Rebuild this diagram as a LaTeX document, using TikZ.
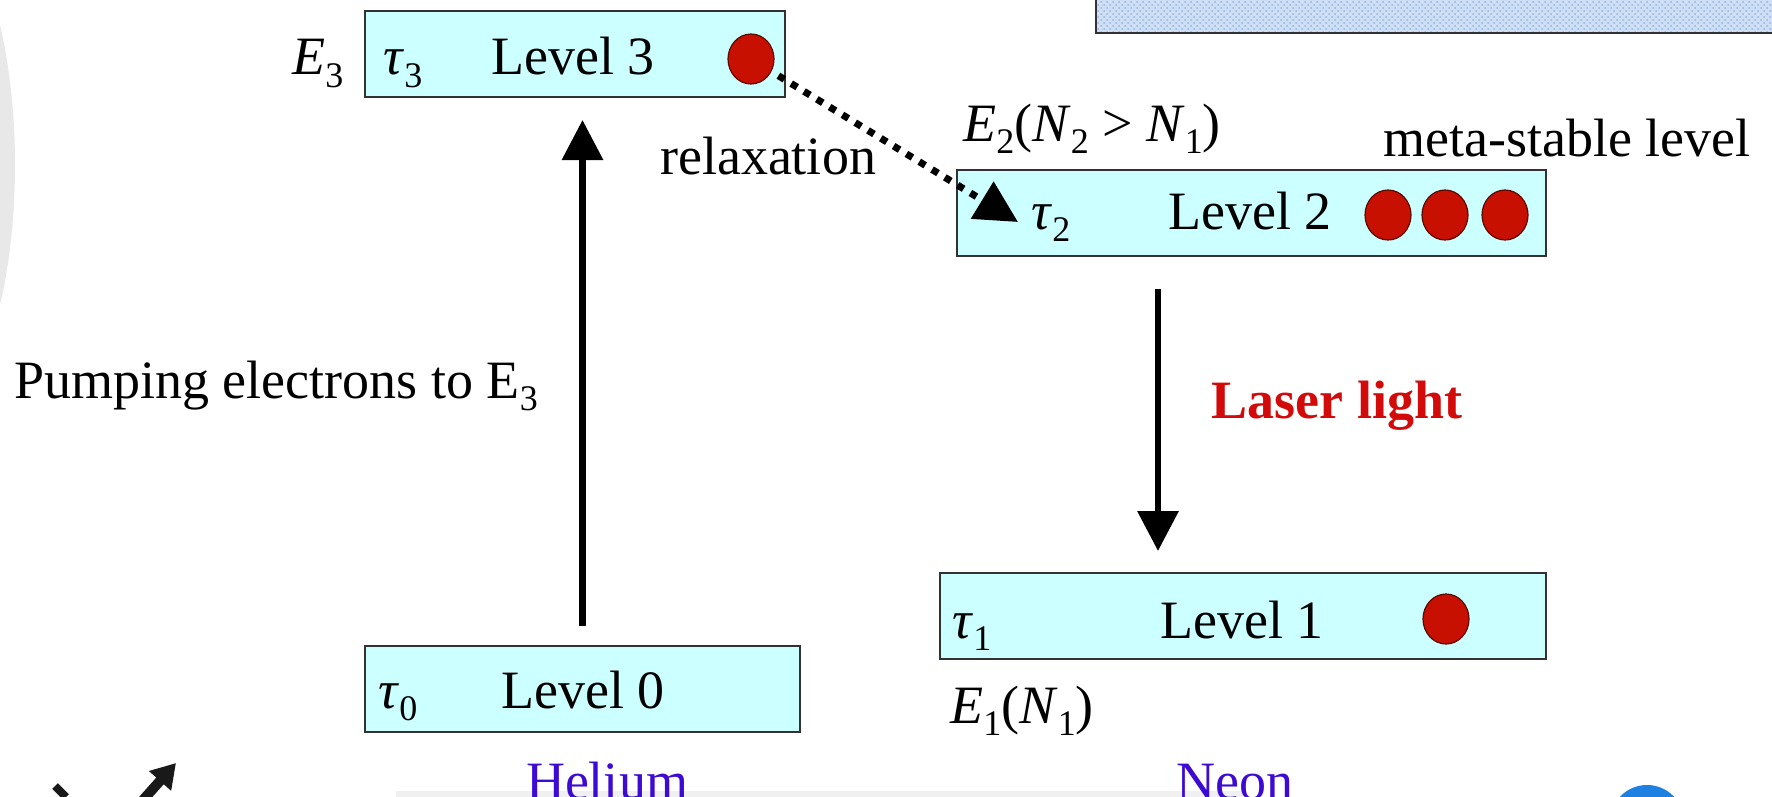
\documentclass[tikz,border=0pt]{standalone}
\usepackage{fontspec}
\setmainfont{Liberation Serif}
\usetikzlibrary{arrows.meta,shapes.geometric,patterns}
\definecolor{boxfill}{RGB}{204,255,255}
\definecolor{boxline}{RGB}{50,50,50}
\definecolor{dotred}{RGB}{200,16,0}
\definecolor{dotline}{RGB}{90,10,0}
\definecolor{laserred}{RGB}{210,10,10}
\definecolor{gasblue}{RGB}{60,10,210}
\definecolor{barblue}{RGB}{205,222,245}
\definecolor{barpat}{RGB}{150,180,225}
\definecolor{iconblue}{RGB}{30,128,224}
\newcommand\sbs[1]{\raisebox{-0.5ex}{\fontsize{18}{18}\selectfont #1}}
\begin{document}
\begin{tikzpicture}[x=0.5pt,y=-0.5pt,
  levelbox/.style={draw=boxline,line width=1pt,fill=boxfill,minimum height=43pt,inner sep=0pt},
  txt/.style={anchor=base,inner sep=0pt,font=\fontsize{27}{32}\selectfont},
  electron/.style={ellipse,draw=dotline,line width=0.6pt,fill=dotred,minimum width=23pt,minimum height=25pt,inner sep=0pt},
  transition/.style={line width=3.2pt,-{Triangle[length=20pt,width=20pt]}},
  relax/.style={line width=3.5pt,dash pattern=on 3.5pt off 4pt,-{Triangle[length=21pt,width=21pt]}}]
\useasboundingbox (0,0) rectangle (1772,797);
% background artefacts
\fill[barblue] (1096,0) rectangle (1772,33);
\fill[pattern=crosshatch dots,pattern color=barpat] (1096,0) rectangle (1772,33);
\draw[boxline,line width=1.2pt] (1096,0) -- (1096,33) -- (1772,33);
\fill[gray!18] (0,25) .. controls (20,110) and (20,220) .. (0,305) -- cycle;
\fill[gray!12] (396,791) rectangle (1243,797);
\fill[iconblue] (1647,822) circle (37);
\draw[black!90,line width=5pt,-{Triangle[length=12pt,width=14pt]}] (143,800) -- (176,763);
\draw[black!90,line width=4pt] (55,786) -- (66,797);
% level boxes
\node[levelbox,minimum width=210pt] (L3) at (575,54) {};
\node[levelbox,minimum width=294.5pt] (L2) at (1251.5,212.5) {};
\node[levelbox,minimum width=303pt] (L1) at (1243,616) {};
\node[levelbox,minimum width=217.5pt] (L0) at (582.5,689) {};
% texts
\node[txt] (E3) at (318,75) {\textit{E}\sbs{3}};
\node[txt] (t3) at (403,75) {\textit{τ}\sbs{3}};
\node[txt] (lv3) at (573,75) {Level 3};
\node[txt] (t2) at (1051,229) {\textit{τ}\sbs{2}};
\node[txt] (lv2) at (1250,229) {Level 2};
\node[txt] (t1) at (972,638) {\textit{τ}\sbs{1}};
\node[txt] (lv1) at (1242,638) {Level 1};
\node[txt] (t0) at (398,708) {\textit{τ}\sbs{0}};
\node[txt] (lv0) at (583,708) {Level 0};
\node[txt] (E2) at (1092,141) {\textit{E}\sbs{2}(\textit{N}\sbs{2} > \textit{N}\sbs{1})};
\node[txt] (meta) at (1567,156) {meta-stable level};
\node[txt] (E1) at (1022,723) {\textit{E}\sbs{1}(\textit{N}\sbs{1})};
\node[txt] (relaxlbl) at (768,175) {relaxation};
\node[txt,anchor=base west] (pump) at (14,398) {Pumping electrons to E\sbs{3}};
\node[txt,text=laserred,font=\fontsize{27}{32}\selectfont\bfseries] (laser) at (1337,418) {Laser light};
\node[txt,text=gasblue] (he) at (607,799) {Helium};
\node[txt,text=gasblue] (ne) at (1235,799) {Neon};
% electrons
\node[electron] (e3) at (751,59) {};
\node[electron] (e2a) at (1388,215) {};
\node[electron] (e2b) at (1445,215) {};
\node[electron] (e2c) at (1505,215) {};
\node[electron] (e1) at (1446,619) {};
% transitions
\coordinate (relaxend) at (1018,222);
\coordinate (dx) at (1158,0);
\draw[transition,shorten <=9.5pt,shorten >=11pt] (L0.north) -- (L0.north |- L3.south);
\draw[transition,shorten <=16pt,shorten >=10.5pt] (L2.south -| dx) -- (L1.north -| dx);
\draw[relax,shorten <=4pt] (e3) -- (relaxend);
\end{tikzpicture}
\end{document}
